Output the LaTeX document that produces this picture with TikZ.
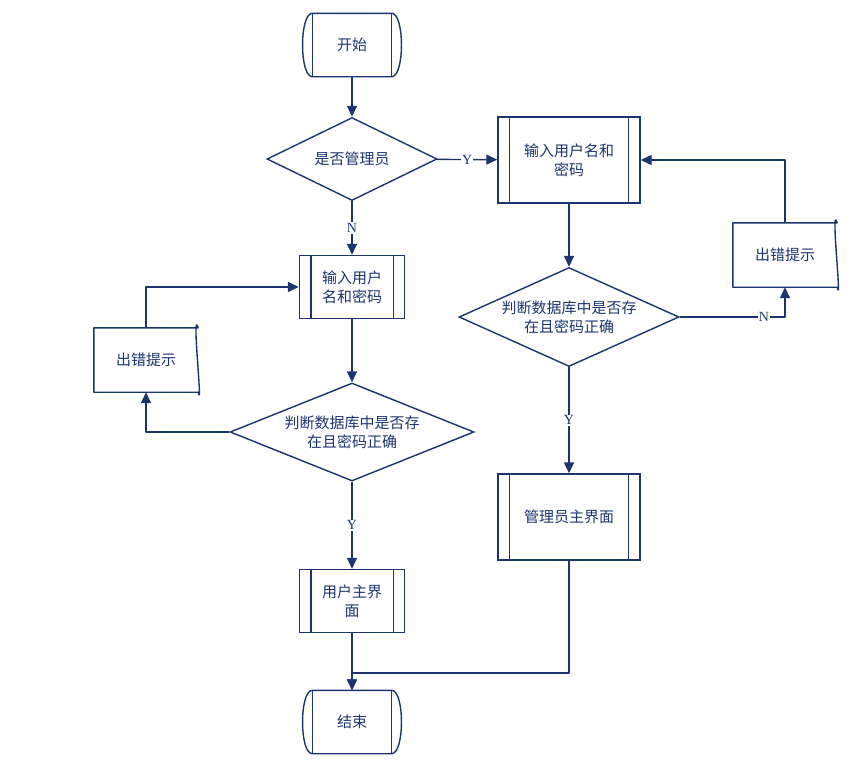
\documentclass[tikz,border=0pt]{standalone}
\usepackage{fontspec}
\setmainfont{Liberation Serif}
\newfontfamily\cjk{Noto Sans CJK SC}
\usetikzlibrary{shapes.geometric,arrows.meta}
\definecolor{ink}{HTML}{1B3570}
\begin{document}
\begin{tikzpicture}[x=1pt,y=-1pt,
  every node/.style={font=\cjk\fontsize{15}{19}\selectfont,text=ink,align=center},
  base/.style={minimum width=105pt,minimum height=63pt,inner sep=0pt},
  proc/.style={base,draw=ink,line width=1.4pt,fill=white},
  dia/.style={diamond,draw=ink,line width=1.4pt,fill=white,aspect=2.4,inner sep=0pt},
  ln/.style={draw=ink,line width=1.4pt,line join=round},
  arr/.style={ln,-{Triangle[length=11pt,width=10pt]}},
  lab/.style={font=\fontsize{14}{16}\selectfont,fill=white,inner sep=1pt}]
\useasboundingbox (0,0) rectangle (866,771);
% terminals
\foreach \n/\y/\t in {st/45/开始, en/722/结束}{
  \node[base] (\n) at (352,\y) {};
  \draw[ln,fill=white] ([xshift=13pt]\n.north west) -- ([xshift=-13pt]\n.north east)
    .. controls (\n.north east) and (\n.south east) .. ([xshift=-13pt]\n.south east)
    -- ([xshift=13pt]\n.south west)
    .. controls (\n.south west) and (\n.north west) .. ([xshift=13pt]\n.north west);
  \draw[ln] ([xshift=13pt]\n.north west) -- ([xshift=13pt]\n.south west);
  \draw[ln] ([xshift=-13pt]\n.north east) -- ([xshift=-13pt]\n.south east);
  \node at (\n) {\t};
}
% diamonds
\node[dia,minimum width=170pt,minimum height=83pt] (d1) at (352,159) {是否管理员};
\node[dia,minimum width=244pt,minimum height=98pt] (d2) at (352,432) {判断数据库中是否存\\在且密码正确};
\node[dia,minimum width=220pt,minimum height=99pt] (d3) at (569,317) {判断数据库中是否存\\在且密码正确};
% process boxes
\node[proc] (p1) at (352,287) {输入用户\\名和密码};
\node[proc] (p2) at (352,601) {用户主界\\面};
\node[proc,minimum width=142pt,minimum height=86pt] (p3) at (569,160) {输入用户名和\\密码};
\node[proc,minimum width=142pt,minimum height=86pt] (p4) at (569,517) {管理员主界面};
\foreach \n in {p1,p2,p3,p4}{
  \draw[ln] ([xshift=12pt]\n.north west) -- ([xshift=12pt]\n.south west);
  \draw[ln] ([xshift=-12pt]\n.north east) -- ([xshift=-12pt]\n.south east);
}
% documents
\foreach \n/\x/\y in {e1/146/360, e2/785/255}{
  \node[base,minimum width=104pt,minimum height=64pt] (\n) at (\x,\y) {};
  \draw[ln,fill=white] (\n.north west) -- (\n.north east)
    .. controls ([xshift=-7pt,yshift=22pt]\n.north east) and ([xshift=5pt,yshift=-22pt]\n.south east) .. (\n.south east)
    -- (\n.south west) -- cycle;
  \node at (\n) {出错提示};
}
% connectors
\draw[arr] (st) -- (d1);
\draw[arr] (d1) -- node[lab]{Y} (p3);
\draw[arr] (d1) -- node[lab]{N} (p1);
\draw[arr] (p1) -- (d2);
\draw[arr] (d2.west) -| (e1.south);
\draw[arr] (e1.north) |- (p1.west);
\draw[arr] (d2) -- node[lab]{Y} (p2);
\draw[arr] (p2) -- (en);
\draw[arr] (p3) -- (d3);
\draw[arr] (d3.east) -| node[lab,pos=0.4]{N} (e2.south);
\draw[arr] (e2.north) |- (p3.east);
\draw[arr] (d3) -- node[lab]{Y} (p4);
\coordinate (c1) at (569,673);
\draw[arr] (p4.south) -- (c1) -| (en.north);
\end{tikzpicture}
\end{document}
